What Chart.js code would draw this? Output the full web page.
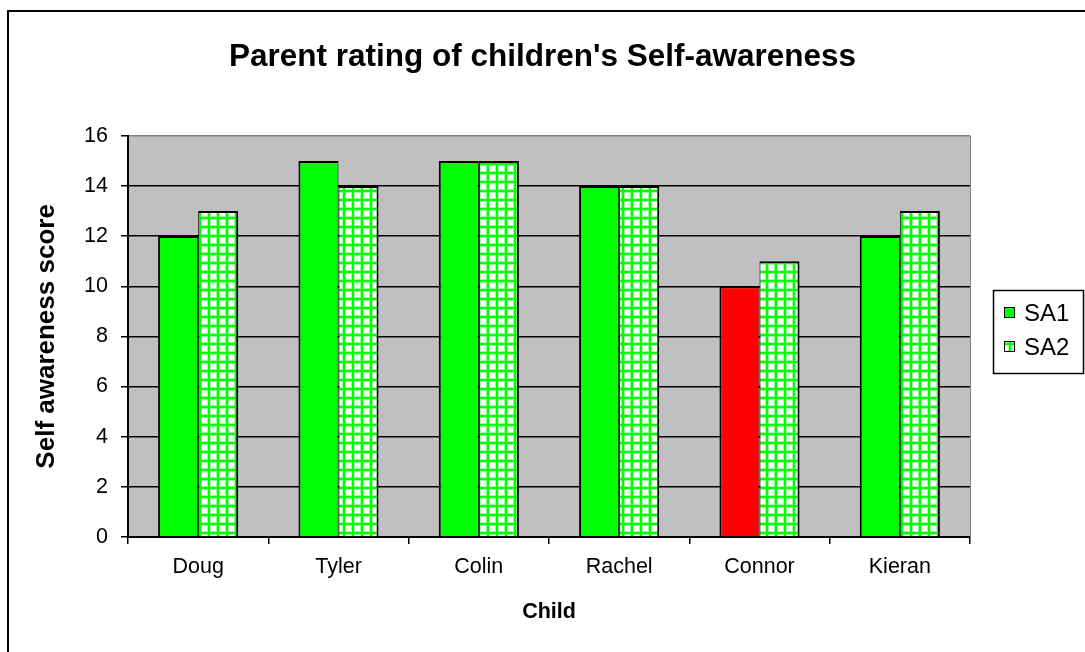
<!DOCTYPE html>
<html>
<head>
<meta charset="utf-8">
<script src="https://cdn.jsdelivr.net/npm/chart.js@4.4.1/dist/chart.umd.min.js"></script>
<style>
  html, body { margin: 0; padding: 0; background: #fff; }
  #wrap { width: 1085px; height: 652px; position: relative; }
</style>
</head>
<body>
<div id="wrap"><canvas id="chart"></canvas></div>
<script>
const children = ['Doug', 'Tyler', 'Colin', 'Rachel', 'Connor', 'Kieran'];
const sa1 = [12, 15, 15, 14, 10, 12];
const sa2 = [13, 14, 15, 14, 11, 13];
const sa1Colors = ['#00FF00', '#00FF00', '#00FF00', '#00FF00', '#FF0000', '#00FF00'];
const seriesNames = ['SA1', 'SA2'];

const FONT = 'Arial, "Liberation Sans", sans-serif';

// motif quadrillé vert/blanc pour SA2
function makeGrid() {
    const c = document.createElement('canvas');
    c.width = 9; c.height = 9;
    const g = c.getContext('2d');
    g.fillStyle = '#ffffff';
    g.fillRect(0, 0, 9, 9);
    g.fillStyle = '#9dff9d';
    g.fillRect(0, 0, 4, 9);
    g.fillRect(0, 0, 9, 4);
    g.fillStyle = '#00ff00';
    g.fillRect(1, 0, 2, 9);
    g.fillRect(0, 1, 9, 2);
    return g.createPattern(c, 'repeat');
}
const gridPattern = makeGrid();

// fond gris de la zone de tracé + cadre extérieur
const backdrop = {
    id: 'backdrop',
    beforeDraw(chart) {
        const { ctx, chartArea: a } = chart;
        ctx.save();
        ctx.fillStyle = '#C0C0C0';
        ctx.fillRect(a.left, a.top, a.right - a.left, a.bottom - a.top);
        ctx.strokeStyle = '#000';
        ctx.lineWidth = 2;
        ctx.strokeRect(8, 11, 2000, 2000);
        ctx.restore();
    },
    afterDatasetsDraw(chart) {
        const { ctx, chartArea: a } = chart;
        ctx.save();
        ctx.strokeStyle = '#808080';
        ctx.lineWidth = 1;
        ctx.beginPath();
        ctx.moveTo(a.right + 0.5, a.top);
        ctx.lineTo(a.right + 0.5, a.bottom);
        ctx.stroke();
        ctx.restore();
    }
};

// légende encadrée à droite
const boxLegend = {
    id: 'boxLegend',
    afterDraw(chart) {
        const ctx = chart.ctx;
        const x = 993, y = 290, w = 90, h = 83;
        ctx.save();
        ctx.fillStyle = '#fff';
        ctx.fillRect(x, y, w, h);
        ctx.strokeStyle = '#000';
        ctx.lineWidth = 1.5;
        ctx.strokeRect(x + 0.5, y + 0.5, w, h);
        const fills = ['#00FF00', gridPattern];
        chart.data.datasets.forEach((ds, i) => {
            const cy = y + 23 + i * 34;
            ctx.fillStyle = fills[i];
            ctx.fillRect(x + 11, cy - 6, 11, 11);
            ctx.strokeStyle = '#000';
            ctx.lineWidth = 1;
            ctx.strokeRect(x + 11.5, cy - 5.5, 10, 10);
            ctx.fillStyle = '#000';
            ctx.font = '24px ' + FONT;
            ctx.textBaseline = 'middle';
            ctx.textAlign = 'left';
            ctx.fillText(ds.label, x + 31, cy + 1);
        });
        ctx.restore();
    }
};

new Chart(document.getElementById('chart'), {
    type: 'bar',
    data: {
        labels: children,
        datasets: [{
            label: seriesNames[0],
            data: sa1,
            backgroundColor: sa1Colors,
            borderColor: '#000',
            borderWidth: { top: 2, left: 2, right: 1, bottom: 0 },
            borderSkipped: false,
            categoryPercentage: 0.571,
            barPercentage: 1
        }, {
            label: seriesNames[1],
            data: sa2,
            backgroundColor: gridPattern,
            borderColor: '#000',
            borderWidth: { top: 2, left: 1, right: 2, bottom: 0 },
            borderSkipped: false,
            categoryPercentage: 0.571,
            barPercentage: 1
        }]
    },
    options: {
        responsive: true,
        maintainAspectRatio: false,
        animation: false,
        layout: { padding: { left: 0, right: 0, top: 0, bottom: 20 } },
        plugins: {
            legend: { display: false },
            tooltip: { enabled: false },
            title: {
                display: true,
                text: "Parent rating of children's Self-awareness",
                color: '#000',
                font: { family: FONT, size: 31.5, weight: 'bold' },
                padding: { top: 38, bottom: 60 }
            }
        },
        scales: {
            x: {
                offset: true,
                grid: { display: true, drawOnChartArea: false, offset: true, color: '#000', lineWidth: 1.5, tickLength: 7 },
                border: { color: '#000', width: 2 },
                ticks: { color: '#000', font: { family: FONT, size: 21.5 }, padding: 10, maxRotation: 0 },
                title: { display: true, text: 'Child', color: '#000', font: { family: FONT, size: 21.5, weight: 'bold' }, padding: { top: 0, bottom: 7 } },
                afterFit(s) { s.height = 95; }
            },
            y: {
                min: 0,
                max: 16,
                ticks: { stepSize: 2, color: '#000', font: { family: FONT, size: 21.5 }, padding: 13 },
                grid: {
                    color: c => (c.tick && c.tick.value === 16 ? '#808080' : '#000'),
                    tickColor: '#000',
                    lineWidth: 1.5,
                    tickLength: 7
                },
                border: { color: '#000', width: 2 },
                title: { display: true, text: 'Self awareness score', color: '#000', font: { family: FONT, size: 26, weight: 'bold' }, padding: { top: 31, bottom: 0 } },
                afterFit(s) { s.width = 128; }
            },
            // axe vide à droite : réserve la place de la légende
            yRight: {
                position: 'right',
                display: true,
                grid: { display: false },
                border: { display: false },
                ticks: { display: false },
                afterFit(s) { s.width = 115; }
            }
        }
    },
    plugins: [backdrop, boxLegend]
});
</script>
</body>
</html>
